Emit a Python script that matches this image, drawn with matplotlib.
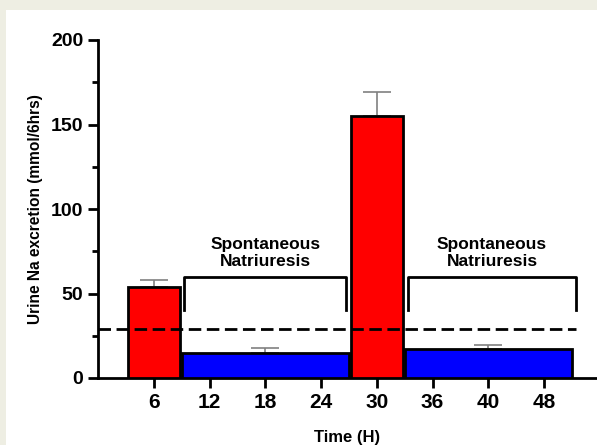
import matplotlib.pyplot as plt
from matplotlib.patches import Rectangle

plt.rcParams["font.family"] = ["Liberation Sans", "DejaVu Sans"]
plt.rcParams["font.weight"] = "bold"

# Data
time_labels = ["6", "12", "18", "24", "30", "36", "40", "48"]
# each bar covers a run of time points (first index, last index)
bar_first = [0, 1, 4, 5]
bar_last = [0, 3, 4, 7]
bar_values = [54, 15, 155, 17]
bar_errors = [4, 2.5, 14, 2.5]
bar_error_at = [0, 2, 4, 6]
bar_colors = ["#ff0000", "#0000ff", "#ff0000", "#0000ff"]
threshold = 29
# brackets over the spontaneous natriuresis periods (x in time-point units)
bracket_start = [0.545, 4.565]
bracket_end = [3.445, 7.57]
bracket_low = 40
bracket_high = 60
bracket_text = ["Spontaneous\nNatriuresis", "Spontaneous\nNatriuresis"]

fig = plt.figure(figsize=(5.97, 4.45), dpi=100)
fig.patch.set_facecolor("#eeeee3")
fig.patches.append(Rectangle((6 / 597, 0), 1, (445 - 10) / 445,
                             transform=fig.transFigure, facecolor="white",
                             edgecolor="none", zorder=-10))

ax = fig.add_axes([98 / 597, 67 / 445, 499 / 597, 338 / 445])
ax.set_facecolor("none")
ax.set_zorder(1)

# Bars
for i in range(len(bar_values)):
    single = bar_first[i] == bar_last[i]
    left = bar_first[i] - (0.47 if single else 0.5)
    right = bar_last[i] + (0.47 if single else 0.5)
    ax.bar((left + right) / 2, bar_values[i], width=right - left,
           color=bar_colors[i], edgecolor="black", linewidth=2, zorder=3)
    ax.errorbar(bar_error_at[i], bar_values[i], yerr=[[0], [bar_errors[i]]],
                fmt="none", ecolor="#808080", elinewidth=1.2, capsize=10,
                capthick=1.2, zorder=2)

# Threshold line
ax.plot([-1, 7.57], [threshold, threshold], color="black", linewidth=2,
        linestyle=(0, (4.5, 2)), zorder=4)

# Brackets
for i in range(len(bracket_start)):
    x0 = bracket_start[i]
    x1 = bracket_end[i]
    ax.plot([x0, x0, x1, x1],
            [bracket_low, bracket_high, bracket_high, bracket_low],
            color="black", linewidth=2, zorder=4)
    ax.text((x0 + x1) / 2, 74, bracket_text[i],
            ha="center", va="center", fontsize=12.5, fontweight="bold",
            linespacing=1.2)

ax.set_xlim(-1.005, 7.95)
ax.set_ylim(0, 200)
ax.set_xticks(range(len(time_labels)))
ax.set_xticklabels(time_labels)
ax.set_yticks([0, 50, 100, 150, 200])
ax.set_yticks([25, 75, 125, 175], minor=True)

for side in ["top", "right"]:
    ax.spines[side].set_visible(False)
for side in ["left", "bottom"]:
    ax.spines[side].set_linewidth(2)

ax.tick_params(axis="both", which="major", labelsize=14, width=2, length=7)
ax.tick_params(axis="x", which="major", labelsize=15)
ax.tick_params(axis="y", which="minor", width=2, length=4)
for lab in ax.get_xticklabels() + ax.get_yticklabels():
    lab.set_fontweight("bold")

ax.set_xlabel("Time (H)", fontsize=12, fontweight="bold", labelpad=13)
ax.set_ylabel("Urine Na excretion (mmol/6hrs)", fontsize=11.2,
              fontweight="bold", labelpad=6)

plt.savefig("out.png", dpi=100)
plt.close()
